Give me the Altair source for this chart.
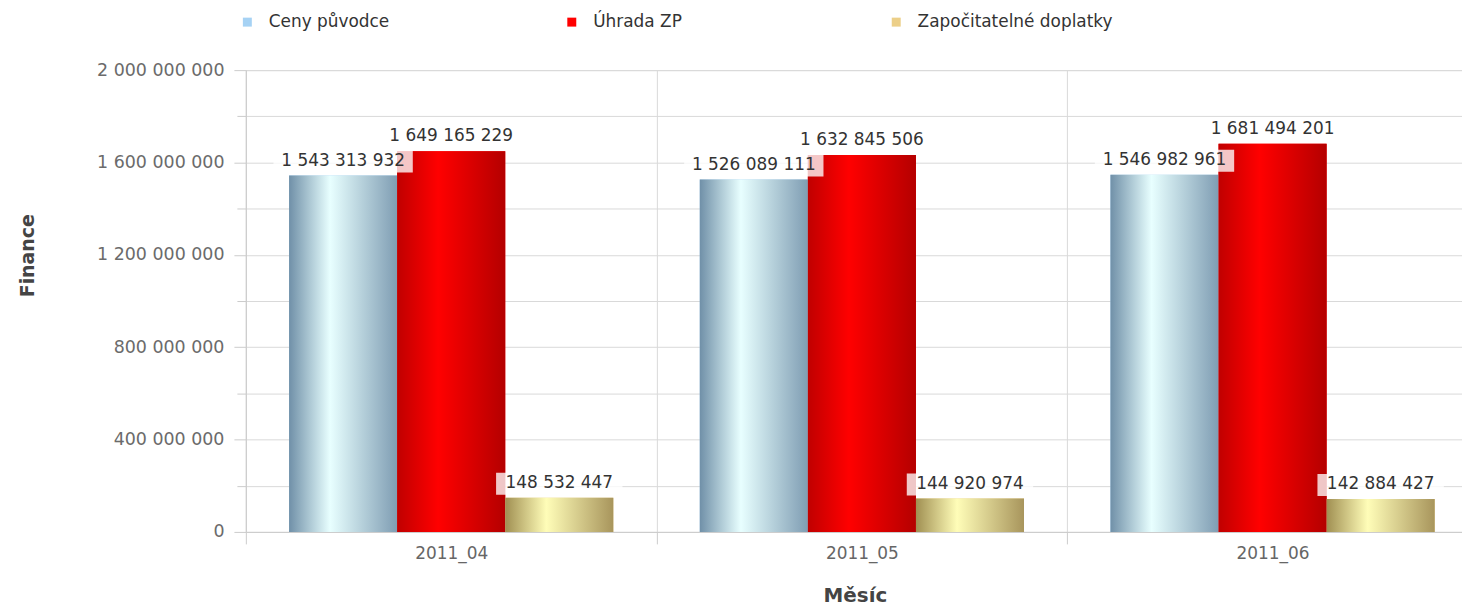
import altair as alt
import pandas as pd

months = ["2011_04", "2011_05", "2011_06"]
series = ["Ceny původce", "Úhrada ZP", "Započitatelné doplatky"]
ceny_puvodce = [1543313932, 1526089111, 1546982961]
uhrada_zp = [1649165229, 1632845506, 1681494201]
doplatky = [148532447, 144920974, 142884427]
y_tick_values = [0, 200000000, 400000000, 600000000, 800000000, 1000000000,
                 1200000000, 1400000000, 1600000000, 1800000000, 2000000000]

rows = []
for i, m in enumerate(months):
    for s, vals in zip(series, [ceny_puvodce, uhrada_zp, doplatky]):
        rows.append({"month": m, "series": s, "value": vals[i]})
df = pd.DataFrame(rows)

legend_colors = ["#a6d2f4", "#ff0000", "#eccf88"]


def grad(c0, c1, c2):
    return alt.LinearGradient(
        gradient="linear", x1=0, y1=0, x2=1, y2=0,
        stops=[alt.GradientStop(offset=0, color=c0),
               alt.GradientStop(offset=0.38, color=c1),
               alt.GradientStop(offset=1, color=c2)])


gradients = [
    grad("#7090a8", "#e8ffff", "#7f9db3"),
    grad("#c00000", "#ff0000", "#b40000"),
    grad("#a08f52", "#fffdb8", "#a8955c"),
]

FONT = "DejaVu Sans"

x_enc = alt.X(
    "month:N",
    scale=alt.Scale(domain=months, paddingInner=0, paddingOuter=0),
    axis=alt.Axis(
        title="Měsíc", tickBand="extent", grid=True, gridColor="#d9d9d9",
        ticks=True, tickSize=12, tickColor="#cccccc", domainColor="#cccccc",
        labelAngle=0, labelFont=FONT, labelFontSize=17, labelColor="#666666",
        labelPadding=2, titleFont=FONT, titleFontSize=20, titleFontWeight="bold",
        titleColor="#444444", titleX=612, titleY=64, titleBaseline="middle",
        titleAnchor="start", titleAlign="center",
    ),
)
xoff_enc = alt.XOffset(
    "series:N",
    scale=alt.Scale(domain=series, paddingOuter=0.4, paddingInner=0),
)
y_enc = alt.Y(
    "value:Q",
    scale=alt.Scale(domain=[0, 2000000000], nice=False),
    axis=alt.Axis(
        title="Finance", values=y_tick_values, grid=True, gridColor="#d9d9d9",
        tickColor="#cccccc", domainColor="#cccccc",
        tickSize={"condition": {"test": "datum.value % 400000000 === 0", "value": 12}, "value": 9},
        labelExpr="datum.value % 400000000 === 0 ? replace(format(datum.value, ','), regexp(',', 'g'), ' ') : ''",
        labelFont=FONT, labelFontSize=17.5, labelColor="#6b6b6b", labelPadding=10,
        titleFont=FONT, titleFontSize=19, titleFontWeight="bold", titleColor="#444444",
        titleAngle=-90, titleX=-219, titleY=186, titleAlign="center",
        titleBaseline="middle", titleAnchor="start",
    ),
)

base = alt.Chart(df).encode(x=x_enc, xOffset=xoff_enc, y=y_enc)

legend_layer = base.mark_bar().encode(
    color=alt.Color(
        "series:N",
        scale=alt.Scale(domain=series, range=legend_colors),
        legend=alt.Legend(
            title=None, orient="none", legendX=-7, legendY=-57,
            direction="horizontal", columns=3, gridAlign="all", columnPadding=100,
            symbolType="square", symbolSize=81, symbolStrokeWidth=0,
            labelFont=FONT, labelFontSize=17, labelColor="#333333", labelOffset=13,
            labelLimit=400,
        ),
    )
)

grad_layers = [
    base.transform_filter(alt.datum.series == s).mark_bar(fill=g)
    for s, g in zip(series, gradients)
]

labeled = base.transform_calculate(
    label="replace(format(datum.value, ','), regexp(',', 'g'), ' ')"
)

box_long = labeled.transform_filter(alt.datum.series != series[2]).mark_point(
    shape="M-1,-0.157L1,-0.157L1,0.157L-1,0.157Z", filled=True, fill="white",
    fillOpacity=0.78, strokeWidth=0, size=140 * 140, yOffset=-14,
)
box_short = labeled.transform_filter(alt.datum.series == series[2]).mark_point(
    shape="M-1,-0.173L1,-0.173L1,0.173L-1,0.173Z", filled=True, fill="white",
    fillOpacity=0.78, strokeWidth=0, size=127 * 127, yOffset=-14,
)
text_layer = labeled.mark_text(
    font=FONT, fontSize=17, color="#333333", baseline="alphabetic",
    align="center", yOffset=-10,
).encode(text="label:N")

chart = alt.layer(legend_layer, *grad_layers, box_long, box_short, text_layer).properties(
    width=1238, height=464,
    autosize=alt.AutoSizeParams(type="none"),
    padding={"left": 239, "top": 61, "right": -16, "bottom": 74},
).configure_view(stroke=None).configure(background="white")

chart.save("out.html", embed_options={"renderer": "svg", "actions": False})
